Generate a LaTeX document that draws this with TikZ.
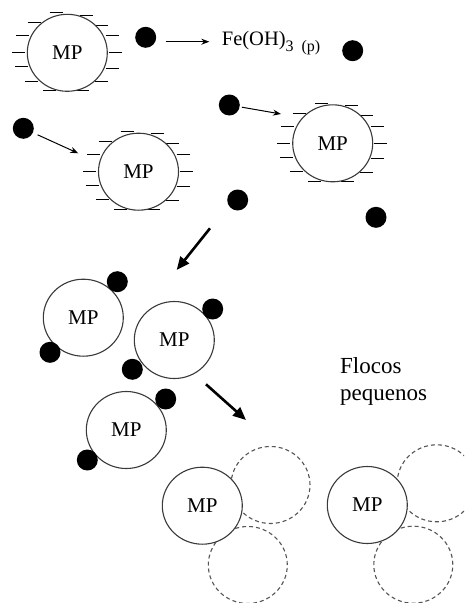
\documentclass[tikz,border=0pt]{standalone}
\usepackage{fontspec}
\setmainfont{Liberation Serif}
\usetikzlibrary{shapes.geometric,arrows.meta}
\definecolor{rim}{HTML}{3A3A3A}
\definecolor{dashrim}{HTML}{555555}
\tikzset{
  particle/.style={ellipse,draw=rim,line width=1.1pt,fill=white,minimum width=80pt,minimum height=77pt,inner sep=0pt,font=\fontsize{21}{24}\selectfont},
  floc/.style={ellipse,draw=dashrim,line width=1.1pt,dash pattern=on 4pt off 3pt,minimum width=79pt,minimum height=77pt,inner sep=0pt},
  blob/.style={circle,fill=black,minimum size=21pt,inner sep=0pt},
  chargedash/.style={line width=1pt,black},
  thinarrow/.style={line width=1pt,-{Stealth[length=8pt,width=6pt]}},
  thickarrow/.style={line width=2.6pt,-{Triangle[length=13pt,width=11pt]}},
  charges/.pic={
    \foreach \cx/\cy in {-11.3/-40.1,18.7/-37.8,-33.3/-30.1,34.2/-27.8,-44.8/-17.1,44.7/-17.1,-48.8/0,48.2/0,-45.8/13.9,44.7/15.2,-35.8/28.2,33.7/28.9,-17.8/37.9,15.2/37.9}
      \draw[chargedash] ({\cx-6.5},\cy) -- ({\cx+6.5},\cy);
  }
}
\begin{document}
\begin{tikzpicture}[x=1pt,y=-1pt]
\clip (0,0) rectangle (464,603);
\fill[white] (0,0) rectangle (464,603);
% charged particles
\pic at (67.3,52.8) {charges};
\node[particle] (c1) at (67.3,52.8) {MP};
\pic at (332.7,143.3) {charges};
\node[particle] (c2) at (332.7,143.3) {MP};
\pic at (138.5,171.7) {charges};
\node[particle] (c3) at (138.5,171.7) {MP};
% hydroxide precipitate
\node[blob] (d1) at (145.7,37.3) {};
\node[blob] (d2) at (352.7,50.7) {};
\node[blob] (d3) at (229.3,105) {};
\node[blob] (d4) at (23.3,128.3) {};
\node[blob] (d5) at (237.7,200) {};
\node[blob] (d6) at (376,217.3) {};
\node[anchor=base west,inner sep=0pt,font=\fontsize{20.5}{24}\selectfont] (fe) at (221.7,45)
  {Fe(OH)\raisebox{-6.5pt}{\fontsize{16}{18}\selectfont 3\hspace{8pt}(p)}};
\coordinate (a1s) at (165.7,41.7);
\coordinate (a1e) at (209.3,41.7);
\draw[thinarrow] (a1s) -- (a1e);
\coordinate (t2) at (281,114);
\draw[thinarrow,shorten <=2pt] (d3) -- (t2);
\coordinate (t3) at (78.3,153.3);
\draw[thinarrow,shorten <=5pt] (d4) -- (t3);
% first thick arrow
\coordinate (b1s) at (210,228.3);
\coordinate (b1e) at (176.7,270);
\draw[thickarrow] (b1s) -- (b1e);
% destabilised particles
\node[particle] (pa) at (83.3,317.7) {MP};
\node[particle] (pb) at (174.3,340) {MP};
\node[particle] (pc) at (126.3,430) {MP};
\node[blob] (ea1) at (117.3,281.7) {};
\node[blob] (ea2) at (50,352.3) {};
\node[blob] (eb1) at (212.7,309) {};
\node[blob] (eb2) at (132.3,369.3) {};
\node[blob] (ec1) at (165.7,399) {};
\node[blob] (ec2) at (87.3,460) {};
% second thick arrow
\coordinate (b2s) at (206,384.3);
\coordinate (b2e) at (246,420);
\draw[thickarrow] (b2s) -- (b2e);
% flocs
\node[anchor=base west,inner sep=0pt,align=left,font=\fontsize{23}{27}\selectfont] (fl) at (340,400.5) {Flocos\\pequenos};
\node[floc] (f1) at (270.5,485) {};
\node[floc] (f2) at (247.8,565) {};
\node[particle] (pd) at (202.3,505.7) {MP};
\node[floc] (f3) at (436.7,483.3) {};
\node[floc] (f4) at (413.3,564.7) {};
\node[particle] (pe) at (367.3,505) {MP};
\end{tikzpicture}
\end{document}
